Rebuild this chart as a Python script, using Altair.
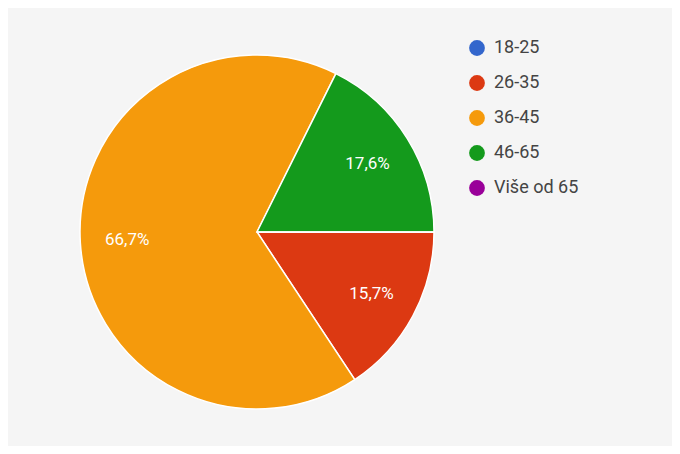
import math
import altair as alt
import pandas as pd

categories = ["18-25", "26-35", "36-45", "46-65", "Više od 65"]
counts = [0, 8, 34, 9, 0]
labels = ["", "15,7%", "66,7%", "17,6%", ""]
colors = ["#3366cc", "#dc3912", "#f59a0c", "#149a1c", "#990099"]

df = pd.DataFrame({
    "cat": categories,
    "count": counts,
    "label": labels,
    "order": list(range(len(categories))),
})

start = math.pi / 2
theta_scale = alt.Scale(range=[start, start + 2 * math.pi])

base = alt.Chart(df).encode(
    theta=alt.Theta("count:Q", stack=True, scale=theta_scale),
    order=alt.Order("order:Q"),
)

arcs = base.mark_arc(stroke="white", strokeWidth=1.5).encode(
    x=alt.value(249),
    y=alt.value(224),
    radius=alt.value(177),
    color=alt.Color(
        "cat:N",
        scale=alt.Scale(domain=categories, range=colors),
        sort=categories,
        legend=alt.Legend(
            title=None,
            orient="none",
            legendX=460,
            legendY=31,
            symbolType="circle",
            symbolSize=250,
            symbolStrokeWidth=0,
            labelFontSize=18,
            labelFont="Roboto",
            labelColor="#444444",
            rowPadding=17,
            labelOffset=8,
        ),
    ),
)

texts = base.mark_text(
    color="white", fontSize=17, font="Roboto", align="center", baseline="middle"
).encode(
    x=alt.value(249),
    y=alt.value(224),
    radius=alt.value(130),
    text="label:N",
)

chart = (
    alt.layer(arcs, texts)
    .properties(width=664, height=438, padding=0, background="#f5f5f5")
    .configure_view(strokeWidth=0)
)

chart.save("out.html", embed_options={"renderer": "svg", "actions": False})
